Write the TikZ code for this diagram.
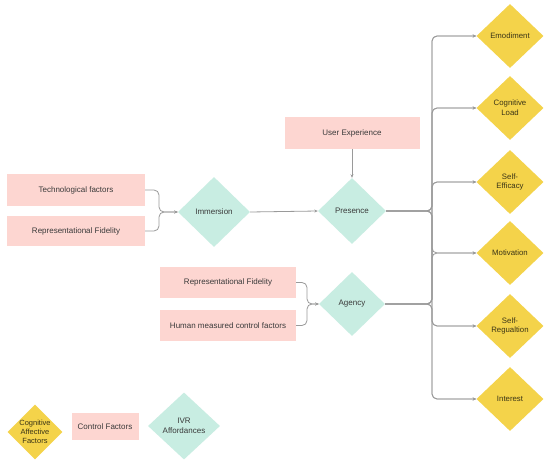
\documentclass[tikz,border=0pt]{standalone}
\usepackage{fontspec}
\setmainfont{Liberation Sans}
\usetikzlibrary{shapes.geometric,arrows.meta}
\definecolor{pinkbox}{HTML}{FDD6D1}
\definecolor{tealdia}{HTML}{C8EDE2}
\definecolor{yellowdia}{HTML}{F4D34A}
\definecolor{txt}{HTML}{3A3A3A}
\definecolor{ytxt}{HTML}{3A3416}
\definecolor{linec}{HTML}{9A9A9A}
\tikzset{
  pinkb/.style={rectangle, fill=pinkbox, draw=none, text=txt, inner sep=0pt,
    font=\fontsize{8}{9.5}\selectfont, align=center},
  tealb/.style={diamond, fill=tealdia, draw=none, text=txt, inner sep=0pt,
    font=\fontsize{8}{9.5}\selectfont, align=center},
  yelb/.style={diamond, fill=yellowdia, draw=none, text=ytxt, inner sep=0pt,
    minimum width=67pt, minimum height=64pt,
    font=\fontsize{7.8}{9.8}\selectfont, align=center},
  conn/.style={draw=linec, line width=0.8pt, rounded corners=5pt,
    -{Stealth[length=3.5pt,width=3pt]}},
}
\begin{document}
\begin{tikzpicture}[x=1pt,y=-1pt]
\useasboundingbox[fill=white] (0,0) rectangle (550,468);

% left group
\node[pinkb, minimum width=138pt, minimum height=32pt] (tech) at (76,190) {Technological factors};
\node[pinkb, minimum width=138pt, minimum height=30pt] (rf1) at (76,231) {Representational Fidelity};
\node[tealb, minimum width=72pt, minimum height=70pt] (imm) at (214,212) {Immersion};

\node[pinkb, minimum width=135pt, minimum height=32pt] (ux) at (352,133) {User Experience};
\node[tealb, minimum width=68pt, minimum height=66pt] (pres) at (352,211) {Presence};

\node[pinkb, minimum width=136pt, minimum height=31pt] (rf2) at (228,282.5) {Representational Fidelity};
\node[pinkb, minimum width=136pt, minimum height=31pt] (hum) at (228,325.5) {Human measured control factors};
\node[tealb, minimum width=66pt, minimum height=64pt] (ag) at (352,304) {Agency};

% outcomes
\node[yelb] (emb) at (510,36) {Emodiment};
\node[yelb] (cl) at (510,108) {Cognitive\\Load};
\node[yelb] (se) at (510,182) {Self-\\Efficacy};
\node[yelb] (mot) at (510,253) {Motivation};
\node[yelb] (sr) at (510,326) {Self-\\Regualtion};
\node[yelb] (int) at (510,399) {Interest};

% legend
\node[yelb, minimum width=55pt, minimum height=52pt, font=\fontsize{7.5}{9}\selectfont] (lcog) at (35,432) {Cognitive\\Affective\\Factors};
\node[pinkb, minimum width=67pt, minimum height=27pt] (lcf) at (105,427) {Control Factors};
\node[tealb, minimum width=72pt, minimum height=67pt] (livr) at (184,426) {IVR\\Affordances};

% junction coordinates
\coordinate (jI) at (159,212);
\coordinate (jA) at (307,304);
\coordinate (tr) at (432,0);

% connectors
\draw[conn] (tech.east) -| (jI) -- (imm.west);
\draw[conn] (rf1.east) -| (jI) -- (imm.west);
\draw[conn] (rf2.east) -| (jA) -- (ag.west);
\draw[conn] (hum.east) -| (jA) -- (ag.west);
\draw[conn] (imm.east) -- (pres.west);
\draw[conn] (ux.south) -- (pres.north);

\foreach \t in {emb,cl,se,mot,sr,int}{
  \draw[conn] (pres.east) -- (pres.east -| tr) |- (\t.west);
  \draw[conn] (ag.east) -- (ag.east -| tr) |- (\t.west);
}
\end{tikzpicture}
\end{document}
